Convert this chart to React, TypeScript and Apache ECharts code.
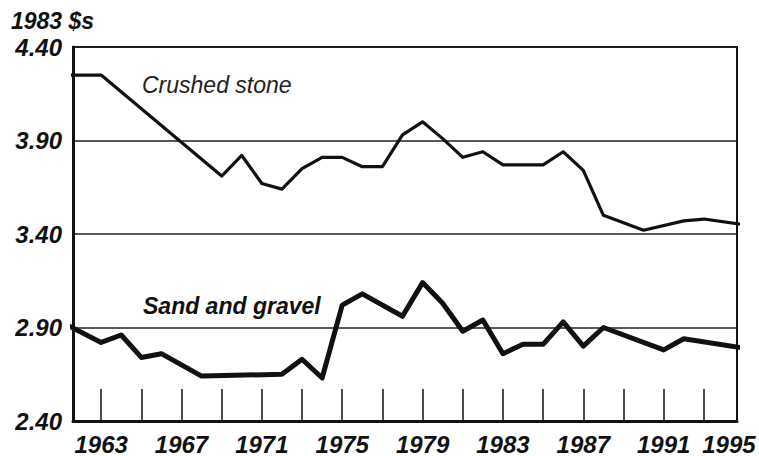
import React, { useEffect, useRef } from "react";
import * as echarts from "echarts";

// Crushed stone, 1983 dollars per ton (vertices)
const crushedYears = [1961, 1963, 1969, 1970, 1971, 1972, 1973, 1974, 1975, 1976, 1977, 1978, 1979, 1980, 1981, 1982, 1983, 1985, 1986, 1987, 1988, 1990, 1992, 1993, 1995];
const crushedValues = [4.25, 4.25, 3.71, 3.82, 3.67, 3.64, 3.75, 3.81, 3.81, 3.76, 3.76, 3.93, 4.0, 3.91, 3.81, 3.84, 3.77, 3.77, 3.84, 3.74, 3.5, 3.42, 3.47, 3.48, 3.45];

// Sand and gravel, 1983 dollars per ton
const sandYears = [1961, 1963, 1964, 1965, 1966, 1968, 1972, 1973, 1974, 1975, 1976, 1978, 1979, 1980, 1981, 1982, 1983, 1984, 1985, 1986, 1987, 1988, 1991, 1992, 1995];
const sandValues = [2.93, 2.82, 2.86, 2.74, 2.76, 2.64, 2.65, 2.73, 2.63, 3.02, 3.08, 2.96, 3.14, 3.03, 2.88, 2.94, 2.76, 2.81, 2.81, 2.93, 2.8, 2.9, 2.78, 2.84, 2.79];

const xTickYears = [1963, 1965, 1967, 1969, 1971, 1973, 1975, 1977, 1979, 1981, 1983, 1985, 1987, 1989, 1991, 1993];
const xLabelYears = [1963, 1967, 1971, 1975, 1979, 1983, 1987, 1991, 1995];
const unitLabel = "1983 $s";
const seriesNames = ["Crushed stone", "Sand and gravel"];

// axis layout
const X_MIN = 1961.6;
const X_MAX = 1994.65;
const LAST_LABEL_POS = 1994.25;

const FONT = "'Liberation Sans', Arial, sans-serif";

export default function App() {
  const ref = useRef<HTMLDivElement>(null);
  useEffect(() => {
    document.body.style.margin = "0";
    const chart = echarts.init(ref.current!, null, { renderer: "svg" });
    const labelPositions = xLabelYears.map((y) => Math.min(y, LAST_LABEL_POS));
    chart.setOption({
      animation: false,
      backgroundColor: "#fff",
      grid: {
        left: 73,
        right: 22,
        top: 47,
        bottom: 32,
        show: true,
        borderColor: "#111",
        borderWidth: 2,
        backgroundColor: "transparent",
      },
      xAxis: {
        type: "value",
        min: X_MIN,
        max: X_MAX,
        axisLine: { show: true, lineStyle: { color: "#111", width: 3 } },
        axisTick: {
          show: true,
          inside: true,
          length: 32,
          customValues: xTickYears,
          lineStyle: { color: "#111", width: 1.5 },
        },
        splitLine: { show: false },
        axisLabel: {
          customValues: labelPositions,
          formatter: (v: number) => {
            const i = labelPositions.findIndex((p) => Math.abs(p - v) < 0.01);
            return i >= 0 ? String(xLabelYears[i]) : "";
          },
          margin: 11,
          color: "#111",
          fontFamily: FONT,
          fontSize: 24,
          fontWeight: "bold",
          fontStyle: "italic",
        },
      },
      yAxis: {
        type: "value",
        min: 2.4,
        max: 4.4,
        interval: 0.5,
        axisLine: { show: true, lineStyle: { color: "#111", width: 3 } },
        axisTick: { show: false },
        splitLine: { show: true, lineStyle: { color: "#222", width: 1.5 } },
        axisLabel: {
          formatter: (v: number) => v.toFixed(2),
          margin: 11,
          padding: [6, 0, 0, 0],
          color: "#111",
          fontFamily: FONT,
          fontSize: 24,
          fontWeight: "bold",
          fontStyle: "italic",
        },
      },
      series: [
        {
          name: seriesNames[0],
          type: "line",
          data: crushedYears.map((y, i) => [y, crushedValues[i]]),
          showSymbol: false,
          clip: true,
          lineStyle: { color: "#111", width: 3.2, join: "round" },
        },
        {
          name: seriesNames[1],
          type: "line",
          data: sandYears.map((y, i) => [y, sandValues[i]]),
          showSymbol: false,
          clip: true,
          lineStyle: { color: "#111", width: 5, join: "round" },
        },
      ],
      graphic: [
        {
          type: "text",
          left: 11,
          top: 9,
          style: {
            text: unitLabel,
            fill: "#111",
            font: `italic bold 23px ${FONT}`,
          },
        },
        {
          type: "text",
          left: 142,
          top: 73,
          style: {
            text: seriesNames[0],
            fill: "#222",
            font: `italic 23px ${FONT}`,
          },
        },
        {
          type: "text",
          left: 143,
          top: 294,
          style: {
            text: seriesNames[1],
            fill: "#111",
            font: `italic bold 23px ${FONT}`,
          },
        },
      ],
    });
    return () => chart.dispose();
  }, []);
  return <div ref={ref} style={{ width: 759, height: 456 }} />;
}
